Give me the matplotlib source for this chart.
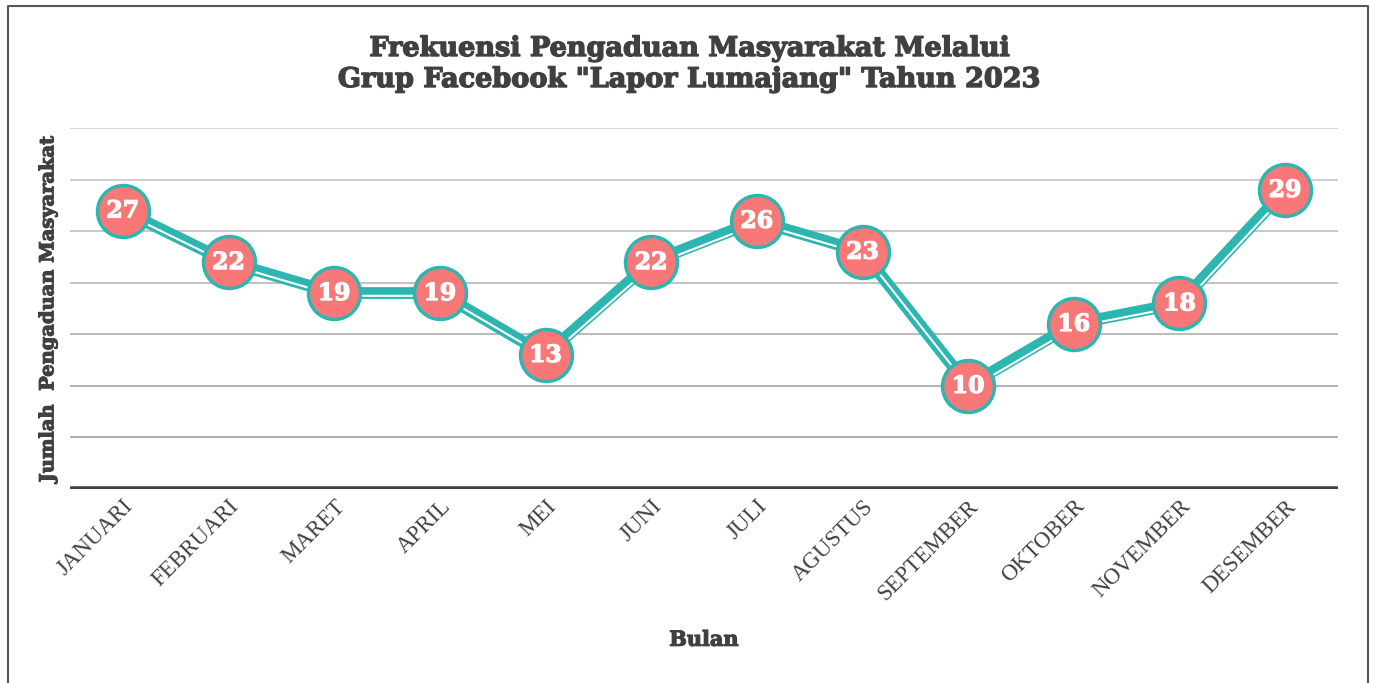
import matplotlib.pyplot as plt
import matplotlib.transforms as mtransforms
import matplotlib.patheffects as pe
from matplotlib.lines import Line2D

# data
bulan = ["JANUARI", "FEBRUARI", "MARET", "APRIL", "MEI", "JUNI", "JULI",
         "AGUSTUS", "SEPTEMBER", "OKTOBER", "NOVEMBER", "DESEMBER"]
jumlah = [27, 22, 19, 19, 13, 22, 26, 23, 10, 16, 18, 29]
grid_levels = [5, 10, 15, 20, 25, 30, 35]

teal = "#2DB6AF"
coral = "#F87878"
dark = "#404040"

def heavy(color, w=0.8):
    return [pe.withStroke(linewidth=w, foreground=color)]

fig = plt.figure(figsize=(13.74, 6.83), dpi=100)
ax = fig.add_axes([70 / 1374, 1 - 489 / 683, 1268 / 1374, 361 / 683])

x = list(range(len(bulan)))

# gridlines, lighter towards the top
for i, g in enumerate(grid_levels):
    shade = 0.65 + 0.03 * i
    ax.axhline(g, color=(shade, shade, shade), lw=1.3, zorder=1)
ax.axhline(0, color=dark, lw=4, zorder=2, solid_capstyle="butt")

# thick teal line with a thin white line inside it
ax.plot(x, jumlah, color=teal, lw=8.5, zorder=3, solid_joinstyle="round")
off = mtransforms.offset_copy(ax.transData, fig=fig, x=1.3, y=-2.0, units="points")
ax.plot(x, jumlah, color="white", lw=1.5, zorder=4, transform=off,
        solid_joinstyle="round")

ax.scatter(x, jumlah, s=1400, color=coral, edgecolor=teal, linewidth=2.5, zorder=5)
for xi, v in zip(x, jumlah):
    ax.text(xi, v, str(v), ha="center", va="center", color="white",
            fontsize=17, fontweight="bold", family="DejaVu Serif", zorder=6,
            path_effects=heavy("white", 0.9))

ax.set_xlim(-0.5, 11.5)
ax.set_ylim(0, 35)
ax.set_yticks([])
ax.set_xticks(x)
ax.set_xticklabels(bulan, rotation=45, ha="right", rotation_mode="anchor",
                   family="Liberation Serif", fontsize=16.5, color=dark)
ax.tick_params(axis="x", length=0, pad=5)
for s in ax.spines.values():
    s.set_visible(False)

ax.set_xlabel("Bulan", family="DejaVu Serif", fontweight="bold", fontsize=15,
              color=dark, path_effects=heavy(dark))
ax.xaxis.set_label_coords(0.5, -0.39)
ax.set_ylabel("Jumlah  Pengaduan Masyarakat", family="DejaVu Serif",
              fontweight="bold", fontsize=14, color=dark, path_effects=heavy(dark))
ax.yaxis.set_label_coords(-0.01, 0.5)

fig.text(0.502, 1 - 62 / 683, 'Frekuensi Pengaduan Masyarakat Melalui',
         ha="center", va="bottom", family="DejaVu Serif", fontweight="bold",
         fontsize=19.5, color=dark, path_effects=heavy(dark, 1.0))
fig.text(0.502, 1 - 66 / 683, 'Grup Facebook "Lapor Lumajang" Tahun 2023',
         ha="center", va="top", family="DejaVu Serif", fontweight="bold",
         fontsize=19.5, color=dark, path_effects=heavy(dark, 1.0))

# outer frame (no bottom edge)
fx = [8 / 1374, 8 / 1374, 1368 / 1374, 1368 / 1374]
fy = [0, 1 - 6 / 683, 1 - 6 / 683, 0]
fig.add_artist(Line2D(fx, fy, transform=fig.transFigure, color="#555555", lw=1.5))

fig.savefig("out.png", dpi=100)
